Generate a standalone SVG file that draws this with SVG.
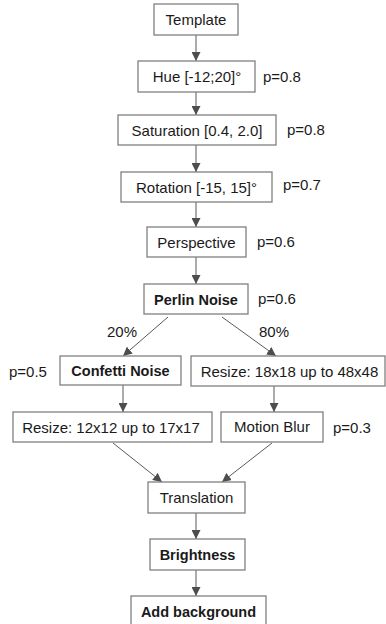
<svg xmlns="http://www.w3.org/2000/svg" width="386" height="624" viewBox="0 0 386 624">
<style>
.box{fill:#fff;stroke:#808080;stroke-width:1.3}
.t{font-family:"Liberation Sans",Arial,sans-serif;font-size:15px;fill:#1a1a1a;text-anchor:middle}
.b{font-weight:bold;font-size:14.5px}
.p{font-family:"Liberation Sans",Arial,sans-serif;font-size:15px;fill:#1a1a1a}
.c{stroke:#595959;stroke-width:1;fill:none;marker-end:url(#ah)}
</style>
<defs>
<marker id="ah" viewBox="0 0 10 10" refX="10" refY="5" markerWidth="9" markerHeight="9" markerUnits="userSpaceOnUse" orient="auto">
<path d="M0,0 L10,5 L0,10 Z" fill="#4d4d4d"/>
</marker>
</defs>
<rect width="386" height="624" fill="#fff"/>
<g id="connectors">
<line class="c" x1="196" y1="35" x2="196" y2="61"/>
<line class="c" x1="196" y1="92" x2="196" y2="115"/>
<line class="c" x1="196" y1="145" x2="196" y2="172"/>
<line class="c" x1="196" y1="202" x2="196" y2="227"/>
<line class="c" x1="196" y1="257" x2="196" y2="284"/>
<line class="c" x1="168" y1="317" x2="123" y2="356"/>
<line class="c" x1="222" y1="317" x2="276" y2="356"/>
<line class="c" x1="123" y1="385" x2="123" y2="412"/>
<line class="c" x1="274" y1="386" x2="274" y2="412"/>
<line class="c" x1="113" y1="443" x2="162" y2="482"/>
<line class="c" x1="272" y1="443" x2="222" y2="482"/>
<line class="c" x1="196" y1="513" x2="196" y2="539"/>
<line class="c" x1="196" y1="570" x2="196" y2="596"/>
<text class="p" x="107" y="337">20%</text>
<text class="p" x="259" y="337">80%</text>
</g>
<g id="template"><rect class="box" x="154" y="4" width="84" height="31"/><text class="t" x="196" y="25">Template</text></g>
<g id="hue"><rect class="box" x="138" y="61" width="117" height="31"/><text class="t" x="197" y="82">Hue [-12;20]°</text><text class="p" x="263" y="82">p=0.8</text></g>
<g id="saturation"><rect class="box" x="118" y="115" width="158" height="30"/><text class="t" x="197" y="135.5">Saturation [0.4, 2.0]</text><text class="p" x="287" y="135">p=0.8</text></g>
<g id="rotation"><rect class="box" x="121" y="172" width="151" height="30"/><text class="t" x="196.5" y="192.5">Rotation [-15, 15]°</text><text class="p" x="283" y="190">p=0.7</text></g>
<g id="perspective"><rect class="box" x="147" y="227" width="99" height="30"/><text class="t" x="196.5" y="247.5">Perspective</text><text class="p" x="257" y="247">p=0.6</text></g>
<g id="perlin"><rect class="box" x="144" y="284" width="104" height="30"/><text class="t b" x="196" y="304.5">Perlin Noise</text><text class="p" x="258" y="304">p=0.6</text></g>
<g id="confetti"><rect class="box" x="60" y="356" width="121" height="29"/><text class="t b" x="120.5" y="376">Confetti Noise</text><text class="p" x="9" y="377">p=0.5</text></g>
<g id="resize18"><rect class="box" x="191" y="356" width="194" height="30"/><text class="t" x="289.5" y="376.5">Resize: 18x18 up to 48x48</text></g>
<g id="resize12"><rect class="box" x="13" y="412" width="199" height="30"/><text class="t" x="111" y="432.5">Resize: 12x12 up to 17x17</text></g>
<g id="motionblur"><rect class="box" x="221" y="412" width="102" height="30"/><text class="t" x="272" y="432">Motion Blur</text><text class="p" x="333" y="433">p=0.3</text></g>
<g id="translation"><rect class="box" x="148" y="482" width="97" height="31"/><text class="t" x="196.5" y="503">Translation</text></g>
<g id="brightness"><rect class="box" x="150" y="539" width="95" height="31"/><text class="t b" x="197.5" y="560">Brightness</text></g>
<g id="addbackground"><rect class="box" x="131" y="596" width="135" height="32"/><text class="t b" x="198.5" y="617">Add background</text></g>
</svg>
